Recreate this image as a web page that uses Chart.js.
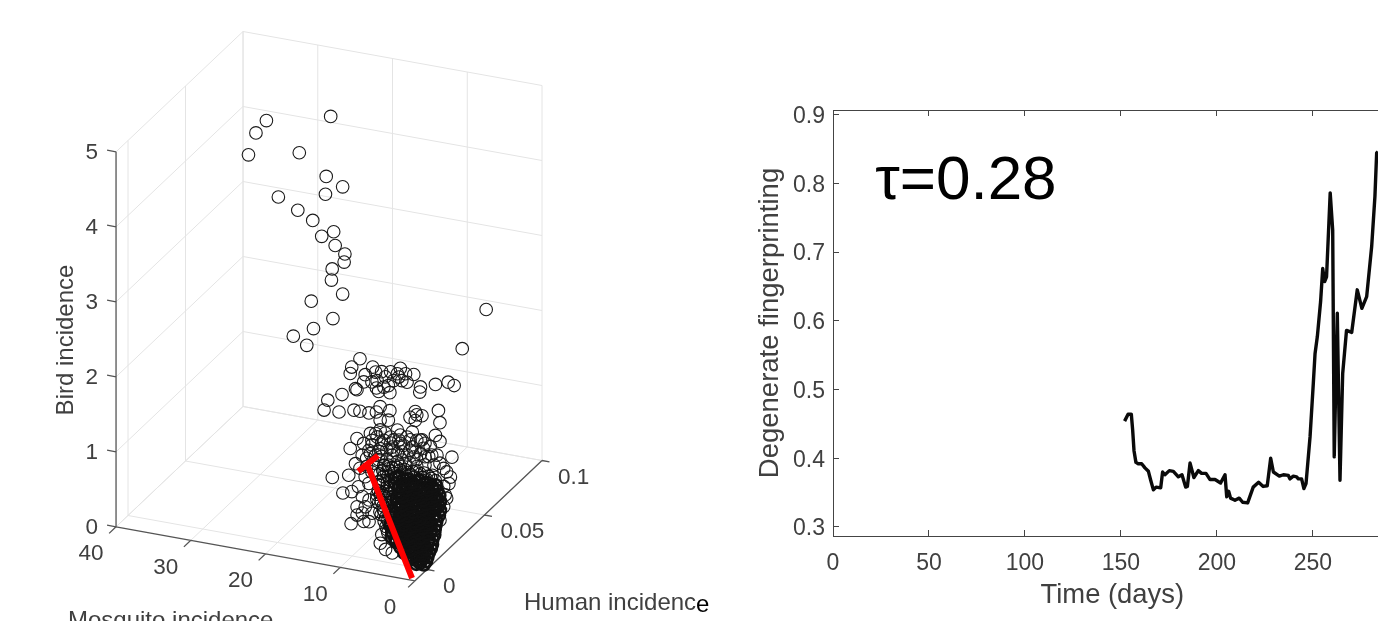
<!DOCTYPE html>
<html lang="en">
<head>
<meta charset="UTF-8">
<title>Incidence and degenerate fingerprinting</title>
<script src="https://cdn.jsdelivr.net/npm/chart.js"></script>
<style>
    body { margin: 0; background: #fff; overflow: hidden; width: 1378px; height: 621px; }
    canvas { position: absolute; top: 0; }
    #scatter3d { left: 0; }
    #fingerprint { left: 700px; }
</style>
</head>
<body>
<canvas id="fingerprint" width="678" height="621"></canvas>
<canvas id="scatter3d" width="720" height="621"></canvas>
<script>
// left panel: sparse circles, same order in all three arrays
const mosquito = [
    30.1,31.5,32.5,21.5,25.7,22.1,19.9,22.2,28.5,25.9,23.9,21.1,22.7,20.9,19.6,19.7,21.3,21.4,19.9,24.1,21.2,23.8,26.5,24.7,0.7,3.9,
    14.2,15.3,15.5,12.5,8.8,7.0,13.5,12.1,11.3,10.1,
    9.2,8.1,12.6,11.9,10.8,9.7,8.6,7.9,4.1,2.4,
    1.6,6.1,6.2,14.8,14.6,12.0,11.7,10.4,10.2,11.0,
    13.7,9.0,16.6,18.5,19.0,17.0,15.0,14.2,13.0,12.0,
    11.5,10.2,6.8,7.5,5.9,6.6,3.7,3.5,11.5,10.4,
    6.8,12.8,14.6,15.5,13.7,4.1,3.5,1.9,14.8,13.9,
    11.5,9.2,10.1,7.9,6.6,5.5,4.6,12.6,11.3,8.8,
    7.2,10.6,9.2,7.9,6.1,12.1,10.6,9.2,7.5,5.5,
    4.3,13.3,11.9,10.8,9.7,8.4,11.5,9.9,8.6,6.8,
    12.8,11.3,9.9,8.6,6.6,5.0,12.4,11.0,8.8,6.6,
    3.0,2.1,15.7,17.9,13.0,3.0,2.6,3.0,3.5,14.4,
    12.6,11.0,9.0,7.5,5.9,13.0,11.7,9.7,7.5,5.7,
    13.3,11.7,10.4,8.1,7.0,5.5,10.1,12.1,8.8,7.2,
    6.1,4.8,3.9,3.5,14.2,13.5,12.6,2.6,2.3,2.8,
    13.1,11.9,11.2,12.0,10.3,10.5,10.1,9.2,10.5,11.2,9.6,9.6,
    6.4,6.2,5.7,5.5,4.8
];
const human = [
    .056,.056,.056,.056,.056,.056,.056,.056,.056,.056,.056,.056,.056,.056,.056,.056,.056,.056,.056,.056,.056,.056,.056,.056,.056,.056,
    .034,.034,.034,.034,.034,.034,.034,.034,.034,.034,
    .034,.034,.034,.034,.034,.034,.034,.034,.034,.034,
    .034,.034,.034,.034,.034,.034,.034,.034,.034,.034,
    .034,.034,.034,.034,.034,.034,.034,.034,.034,.034,
    .034,.034,.034,.034,.034,.034,.034,.034,.034,.034,
    .034,.034,.034,.034,.034,.034,.034,.034,.034,.034,
    .034,.034,.034,.034,.034,.034,.034,.034,.034,.034,
    .034,.034,.034,.034,.034,.034,.034,.034,.034,.034,
    .034,.034,.034,.034,.034,.034,.034,.034,.034,.034,
    .034,.034,.034,.034,.034,.034,.034,.034,.034,.034,
    .034,.034,.034,.034,.034,.034,.034,.034,.034,.034,
    .034,.034,.034,.034,.034,.034,.034,.034,.034,.034,
    .034,.034,.034,.034,.034,.034,.034,.034,.034,.034,
    .034,.034,.034,.034,.034,.034,.034,.034,.034,.034,
    .012,.012,.012,.012,.012,.012,.012,.012,.012,.012,.012,.012,
    .001,.001,.001,.001,.001
];
const bird = [
    4.63,4.44,4.13,4.84,4.28,4.03,3.93,3.79,3.64,3.51,3.41,3.31,3.22,3.13,3.04,2.93,2.81,2.66,2.50,2.33,2.15,1.97,1.82,1.73,2.64,2.06,
    2.06,1.93,1.84,1.98,2.03,1.98,1.86,1.92,1.94,1.96,
    1.95,1.97,1.78,1.81,1.88,1.85,1.87,1.86,1.90,1.96,
    1.93,1.83,1.76,1.65,1.64,1.71,1.67,1.77,1.68,1.74,
    1.76,1.91,1.54,1.43,1.29,1.30,1.36,1.36,1.36,1.39,
    1.47,1.44,1.49,1.40,1.45,1.45,1.56,1.40,1.29,1.31,
    1.37,1.09,.99,.84,.94,1.22,1.15,.97,.65,.78,
    1.16,1.20,1.09,1.13,1.11,1.09,.95,.94,.99,1.03,
    1.01,.91,.89,.89,.94,.81,.78,.78,.79,.80,
    .82,.64,1.06,1.13,1.06,1.01,.91,.96,.92,.95,
    .82,.81,.85,.81,.85,.92,.70,.70,.72,.76,
    .80,.70,.48,.41,.42,.56,.41,.29,.10,.35,
    1.00,1.03,1.07,1.10,1.13,.86,.87,.92,.96,1.02,
    .75,.76,.71,.77,.88,.91,1.01,1.10,1.14,1.21,
    1.12,1.06,.96,.86,.60,.50,.58,.76,.61,.45,
    .61,.65,.46,.22,.28,.61,.48,.41,.39,.35,.58,.29,
    .22,.34,.15,.42,.12
];

// the packed cone near the origin, one line per row
const coreMosquito = [
    0.5,1.0,1.5,
    0.2,0.8,1.4,2.0,
    0.1,0.6,1.2,1.7,2.2,2.7,3.2,
    0.2,0.7,1.3,1.9,2.4,2.9,3.5,4.0,
    0.1,0.7,1.3,1.8,2.4,2.9,3.5,4.1,4.7,
    0.1,0.6,1.2,1.7,2.3,2.8,3.3,3.9,4.4,5.0,5.5,
    0.2,0.7,1.3,1.8,2.4,2.9,3.4,4.0,4.5,5.1,5.6,6.2,
    0.1,0.6,1.1,1.7,2.2,2.8,3.3,3.8,4.4,4.9,5.5,6.0,6.6,
    0.2,0.7,1.3,1.8,2.3,2.9,3.4,3.9,4.4,5.0,5.5,6.0,6.5,7.0,
    0.1,0.7,1.2,1.8,2.4,2.9,3.5,4.0,4.6,5.1,5.7,6.3,6.8,7.4,
    0.2,0.7,1.3,1.8,2.4,2.9,3.5,4.0,4.6,5.1,5.6,6.2,6.7,7.3,7.8,
    0.1,0.7,1.3,1.9,2.4,3.0,3.6,4.1,4.7,5.3,5.8,6.4,7.0,7.6,8.2,
    0.1,0.7,1.2,1.8,2.4,2.9,3.5,4.0,4.6,5.2,5.7,6.3,6.8,7.4,8.0,8.6,
    0.3,0.9,1.4,2.0,2.5,3.1,3.6,4.2,4.8,5.3,5.9,6.4,7.0,7.5,8.1,8.6,
    0.1,0.6,1.2,1.7,2.3,2.9,3.4,4.0,4.5,5.1,5.6,6.2,6.8,7.3,7.9,8.4,
    0.2,0.8,1.3,1.9,2.4,2.9,3.5,4.0,4.6,5.1,5.6,6.2,6.7,7.2,7.8,8.3,
    0.1,0.7,1.3,1.8,2.4,2.9,3.5,4.0,4.6,5.1,5.7,6.3,6.8,7.4,8.0,
    0.3,0.8,1.4,1.9,2.5,3.0,3.5,4.1,4.6,5.2,5.7,6.2,6.7,7.3,7.8,
    0.1,0.7,1.2,1.8,2.3,2.9,3.4,3.9,4.5,5.0,5.6,6.1,6.7,7.2,
    0.2,0.7,1.3,1.8,2.3,2.8,3.4,3.9,4.5,5.0,5.6,6.1,6.7
];
const coreHuman = [
    .0005,.0005,.0005,
    .0005,.0005,.0005,.0005,
    .001,.001,.001,.001,.001,.001,.001,
    .003,.003,.003,.003,.003,.003,.003,.003,
    .004,.004,.004,.004,.004,.004,.004,.004,.004,
    .005,.005,.005,.005,.005,.005,.005,.005,.005,.005,.005,
    .006,.006,.006,.006,.006,.006,.006,.006,.006,.006,.006,.006,
    .007,.007,.007,.007,.007,.007,.007,.007,.007,.007,.007,.007,.007,
    .008,.008,.008,.008,.008,.008,.008,.008,.008,.008,.008,.008,.008,.008,
    .008,.008,.008,.008,.008,.008,.008,.008,.008,.008,.008,.008,.008,.008,
    .0095,.0095,.0095,.0095,.0095,.0095,.0095,.0095,.0095,.0095,.0095,.0095,.0095,.0095,.0095,
    .011,.011,.011,.011,.011,.011,.011,.011,.011,.011,.011,.011,.011,.011,.011,
    .012,.012,.012,.012,.012,.012,.012,.012,.012,.012,.012,.012,.012,.012,.012,.012,
    .012,.012,.012,.012,.012,.012,.012,.012,.012,.012,.012,.012,.012,.012,.012,.012,
    .012,.012,.012,.012,.012,.012,.012,.012,.012,.012,.012,.012,.012,.012,.012,.012,
    .012,.012,.012,.012,.012,.012,.012,.012,.012,.012,.012,.012,.012,.012,.012,.012,
    .0095,.0095,.0095,.0095,.0095,.0095,.0095,.0095,.0095,.0095,.0095,.0095,.0095,.0095,.0095,
    .0095,.0095,.0095,.0095,.0095,.0095,.0095,.0095,.0095,.0095,.0095,.0095,.0095,.0095,.0095,
    .008,.008,.008,.008,.008,.008,.008,.008,.008,.008,.008,.008,.008,.008,
    .006,.006,.006,.006,.006,.006,.006,.006,.006,.006,.006,.006,.006
];
const coreBird = [
    .05,.06,.04,
    .10,.11,.09,.10,
    .15,.14,.16,.15,.13,.16,.15,
    .18,.20,.17,.19,.18,.16,.19,.18,
    .22,.20,.23,.21,.24,.22,.20,.23,.22,
    .26,.28,.25,.27,.24,.26,.28,.25,.27,.24,.26,
    .31,.29,.32,.30,.33,.31,.29,.32,.30,.33,.31,.29,
    .36,.38,.35,.37,.34,.36,.38,.35,.37,.34,.36,.38,.35,
    .41,.39,.42,.40,.43,.41,.39,.42,.40,.43,.41,.39,.42,.40,
    .47,.49,.46,.48,.45,.47,.49,.46,.48,.45,.47,.49,.46,.48,
    .51,.53,.50,.52,.49,.51,.53,.50,.52,.49,.51,.53,.50,.52,.49,
    .56,.54,.57,.55,.58,.56,.54,.57,.55,.58,.56,.54,.57,.55,.58,
    .61,.63,.60,.62,.59,.61,.63,.60,.62,.59,.61,.63,.60,.62,.59,.61,
    .67,.65,.68,.66,.69,.67,.65,.68,.66,.69,.67,.65,.68,.66,.69,.67,
    .73,.75,.72,.74,.71,.73,.75,.72,.74,.71,.73,.75,.72,.74,.71,.73,
    .81,.79,.82,.80,.83,.81,.79,.82,.80,.83,.81,.79,.82,.80,.83,.81,
    .91,.93,.90,.92,.89,.91,.93,.90,.92,.89,.91,.93,.90,.92,.89,
    .98,.96,.99,.97,1.00,.98,.96,.99,.97,1.00,.98,.96,.99,.97,1.00,
    1.07,1.09,1.06,1.08,1.05,1.07,1.09,1.06,1.08,1.05,1.07,1.09,1.06,1.08,
    1.17,1.15,1.18,1.16,1.19,1.17,1.15,1.18,1.16,1.19,1.17,1.15,1.18
];

// red arrow over the cloud
const arrowMosquito = [0.4, 9.69];
const arrowHuman = [-0.0104, 0.0117];
const arrowBird = [0.03, 1.03];
const headMosquito = [11.0, 8.35];
const headHuman = [0.0117, 0.0117];
const headBird = [0.94, 1.20];

const mosquitoTicks = [0, 10, 20, 30, 40];
const humanTicks = [0, 0.05, 0.1];
const birdTicks = [0, 1, 2, 3, 4, 5];
const humanLow = -0.0104;

// right panel
const days = [151.9,153.7,155.4,156.1,156.8,157.8,159.0,160.8,162.5,164.3,165.5,166.9,168.3,170.7,171.7,172.9,175.2,177.3,179.9,181.8,183.7,184.6,186.0,188.0,190.3,192.0,194.3,196.4,199.0,201.9,204.2,205.1,206.1,207.1,209.4,211.6,213.4,216.0,218.9,221.7,224.1,226.2,228.0,229.4,232.5,234.6,237.2,238.0,239.8,241.5,242.4,244.1,245.3,246.4,248.5,250.2,251.1,252.3,254.0,255.1,256.1,257.1,259.0,260.3,261.1,262.7,264.1,265.5,267.5,270.2,273.1,275.5,278.0,280.6,282.3,283.2,283.9];
const fingerprintValues = [.454,.464,.464,.441,.411,.394,.392,.392,.386,.381,.368,.354,.358,.357,.380,.376,.382,.381,.373,.376,.358,.359,.393,.372,.382,.378,.378,.369,.369,.364,.376,.344,.352,.342,.339,.342,.336,.335,.358,.365,.359,.360,.400,.380,.374,.376,.375,.370,.374,.373,.370,.370,.356,.363,.431,.509,.552,.577,.628,.676,.657,.664,.786,.732,.402,.611,.368,.523,.586,.583,.645,.618,.635,.708,.781,.844,.846];

// view of the 3D box as in the picture
function project(m, h, z) {
    return {
        x: 427 - 7.475 * m + 1150 * h,
        y: 569.5 - 1.35 * m - 1090 * h - 75 * z
    };
}

const TEXT = '#404040';
const FONT = '"Liberation Sans", Arial, sans-serif';

function lineSet(segments, color, width, order) {
    const data = [];
    segments.forEach(seg => {
        seg.forEach(p => data.push(project(p[0], p[1], p[2])));
        data.push({ x: null, y: null });
    });
    return { showLine: true, spanGaps: false, data, borderColor: color, borderWidth: width, pointRadius: 0, order };
}

// grid on the back wall, side wall and floor
const gridSegs = [];
mosquitoTicks.forEach(m => {
    gridSegs.push([[m, 0.1, 0], [m, 0.1, 5]]);
    gridSegs.push([[m, humanLow, 0], [m, 0.1, 0]]);
});
humanTicks.forEach(h => {
    gridSegs.push([[40, h, 0], [40, h, 5]]);
    gridSegs.push([[0, h, 0], [40, h, 0]]);
});
birdTicks.forEach(z => {
    gridSegs.push([[0, 0.1, z], [40, 0.1, z]]);
    gridSegs.push([[40, humanLow, z], [40, 0.1, z]]);
});

// axis lines and their short ticks
const axisSegs = [
    [[40, humanLow, 0], [40, humanLow, 5]],
    [[40, humanLow, 0], [0, humanLow, 0]],
    [[0, humanLow, 0], [0, 0.1, 0]]
];
mosquitoTicks.forEach(m => axisSegs.push([[m, humanLow, 0], [m, humanLow - 0.006, 0]]));
humanTicks.forEach(h => axisSegs.push([[0, h, 0], [-1, h, 0]]));
birdTicks.forEach(z => axisSegs.push([[40, humanLow, z], [41.2, humanLow, z]]));

const arrowSegs = [
    arrowMosquito.map((m, i) => [m, arrowHuman[i], arrowBird[i]]),
    headMosquito.map((m, i) => [m, headHuman[i], headBird[i]])
];

const cloud = mosquito.map((m, i) => project(m, human[i], bird[i]));
const core = coreMosquito.map((m, i) => project(m, coreHuman[i], coreBird[i]));

const axisText3d = {
    id: 'axisText3d',
    afterDraw(chart) {
        const ctx = chart.ctx, sx = chart.scales.x, sy = chart.scales.y;
        const put = (label, m, h, z, dx, dy, align) => {
            const p = project(m, h, z);
            ctx.textAlign = align;
            ctx.fillText(label, sx.getPixelForValue(p.x) + dx, sy.getPixelForValue(p.y) + dy);
        };
        ctx.save();
        ctx.fillStyle = TEXT;
        ctx.textBaseline = 'middle';
        ctx.font = '22.5px ' + FONT;
        birdTicks.forEach(z => put(String(z), 40, humanLow, z, -18, 1, 'right'));
        mosquitoTicks.forEach(m => put(String(m), m, humanLow, 0, -25, 27, 'center'));
        humanTicks.forEach(h => put(String(h), 0, h, 0, 16, 17, 'left'));
        ctx.font = '24px ' + FONT;
        ctx.textAlign = 'left';
        ctx.fillText('Mosquito incidence', 68, 621);
        ctx.fillText('Human incidenc', 524, 603);
        const w = ctx.measureText('Human incidenc').width;
        ctx.fillStyle = '#000';
        ctx.fillText('e', 524 + w, 605);
        ctx.fillStyle = TEXT;
        ctx.translate(66, 340);
        ctx.rotate(-Math.PI / 2);
        ctx.textAlign = 'center';
        ctx.fillText('Bird incidence', 0, 0);
        ctx.restore();
    }
};

new Chart(document.getElementById('scatter3d'), {
    type: 'scatter',
    data: {
        datasets: [
            lineSet(arrowSegs, '#ff0000', 6, 1),
            { data: cloud, backgroundColor: 'rgba(0,0,0,0)', borderColor: '#1a1a1a', borderWidth: 1.1, pointRadius: 6.3, order: 3 },
            {
                data: core,
                backgroundColor: 'rgba(0,0,0,0)',
                borderColor: '#111111',
                // the left flank and the top rows of the cone are still readable as single circles
                borderWidth: c => (coreMosquito[c.dataIndex] > 6 || coreBird[c.dataIndex] > 1.03) ? 1.1 : 2.6,
                pointRadius: 6,
                order: 2
            },
            lineSet(axisSegs, '#555555', 1.3, 4),
            lineSet(gridSegs, '#e4e4e4', 1, 5)
        ]
    },
    options: {
        responsive: false,
        animation: false,
        layout: { padding: 0, autoPadding: false },
        plugins: { legend: { display: false }, tooltip: { enabled: false } },
        scales: {
            x: { type: 'linear', display: false, min: 0, max: 720 },
            y: { type: 'linear', display: false, min: 0, max: 621, reverse: true }
        }
    },
    plugins: [axisText3d]
});

const fingerprintText = {
    id: 'fingerprintText',
    afterDraw(chart) {
        const ctx = chart.ctx;
        ctx.save();
        ctx.fillStyle = '#000';
        ctx.font = '62px ' + FONT;
        ctx.textAlign = 'left';
        ctx.textBaseline = 'alphabetic';
        ctx.fillText('τ=0.28', chart.scales.x.getPixelForValue(22), chart.scales.y.getPixelForValue(0.7776));
        ctx.fillStyle = TEXT;
        ctx.font = '27.4px ' + FONT;
        ctx.textAlign = 'center';
        ctx.textBaseline = 'middle';
        ctx.fillText('Time (days)', chart.scales.x.getPixelForValue(145.5), 595);
        ctx.restore();
    }
};

const frameTicks = { drawOnChartArea: false, drawTicks: true, tickLength: -6, tickColor: '#444444' };
const frameBorder = { color: '#444444', width: 1 };

new Chart(document.getElementById('fingerprint'), {
    type: 'line',
    data: {
        datasets: [{
            data: days.map((d, i) => ({ x: d, y: fingerprintValues[i] })),
            borderColor: '#0a0a0a',
            borderWidth: 3.4,
            borderJoinStyle: 'round',
            pointRadius: 0,
            tension: 0
        }]
    },
    options: {
        responsive: false,
        animation: false,
        layout: { padding: 0, autoPadding: false },
        plugins: { legend: { display: false }, tooltip: { enabled: false } },
        scales: {
            x: {
                type: 'linear', min: 0, max: 283.9,
                grid: frameTicks, border: frameBorder,
                afterFit: s => { s.height = 85; },
                ticks: { stepSize: 50, includeBounds: false, maxRotation: 0, padding: 20, color: TEXT, font: { family: FONT, size: 23 } }
            },
            xTop: {
                type: 'linear', axis: 'x', position: 'top', min: 0, max: 283.9,
                grid: frameTicks, border: frameBorder,
                afterFit: s => { s.height = 110; },
                ticks: { stepSize: 50, includeBounds: false, maxRotation: 0, callback: () => '' }
            },
            y: {
                type: 'linear', min: 0.2869, max: 0.9066,
                grid: frameTicks, border: frameBorder,
                afterFit: s => { s.width = 133; },
                ticks: { stepSize: 0.1, includeBounds: false, padding: 14, labelOffset: 2, color: TEXT, font: { family: FONT, size: 23 }, callback: v => v.toFixed(1) },
                title: { display: true, text: 'Degenerate fingerprinting', color: TEXT, padding: { top: 54, bottom: 54 }, font: { family: FONT, size: 27.5 } }
            }
        }
    },
    plugins: [fingerprintText]
});
</script>
</body>
</html>
